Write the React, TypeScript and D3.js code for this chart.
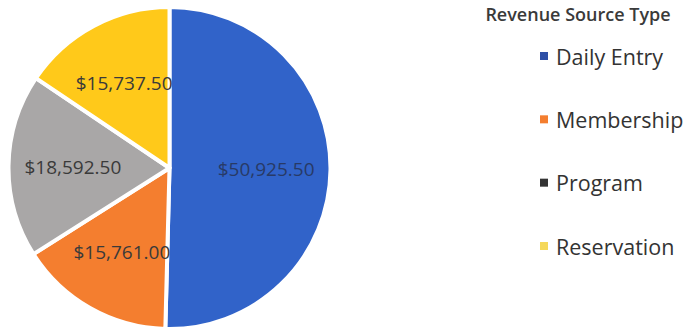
import React from "react";
import * as d3 from "d3";

const categories = ["Daily Entry", "Membership", "Program", "Reservation"];
const values = [50925.5, 15761.0, 18592.5, 15737.5];
const sliceColors = ["#3163C9", "#F47E2F", "#A9A7A7", "#FFC91A"];
const markerColors = ["#2E4FA6", "#F47E2F", "#333333", "#F5D85A"];
const legendTitle = "Revenue Source Type";

const W = 688;
const H = 332;

export default function App() {
  const cx = 169.5;
  const cy = 168;
  const r = 161;
  const pie = d3.pie<number>().sort(null).value((d) => d)(values);
  const arc = d3.arc<d3.PieArcDatum<number>>().innerRadius(0).outerRadius(r);
  const labelArc = d3
    .arc<d3.PieArcDatum<number>>()
    .innerRadius(r * 0.6)
    .outerRadius(r * 0.6);
  const fmt = (v: number) => "$" + d3.format(",.2f")(v);
  const ly = d3.scalePoint<string>().domain(categories).range([56, 246]);

  return (
    <svg
      width={W}
      height={H}
      style={{ position: "absolute", left: 0, top: 0, background: "#fff" }}
    >
      <g transform={`translate(${cx},${cy})`}>
        {pie.map((p, i) => (
          <path
            key={i}
            d={arc(p) || ""}
            fill={sliceColors[i]}
            stroke="#fff"
            strokeWidth={4}
            strokeLinejoin="round"
          />
        ))}
        {pie.map((p, i) => {
          const [x, y] = labelArc.centroid(p);
          return (
            <text
              key={i}
              x={x}
              y={y}
              textAnchor="middle"
              dominantBaseline="central"
              fontFamily="'Open Sans', sans-serif"
              fontSize={19}
              fill={i === 0 ? "#283a66" : "#3a3a3a"}
            >
              {fmt(values[i])}
            </text>
          );
        })}
      </g>
      <text
        x={578}
        y={21}
        textAnchor="middle"
        fontFamily="'Open Sans', sans-serif"
        fontWeight={600}
        fontSize={18}
        fill="#3a3a3a"
      >
        {legendTitle}
      </text>
      {categories.map((c, i) => (
        <g key={c} transform={`translate(0,${ly(c)})`}>
          <rect x={540} y={-4} width={8} height={8} fill={markerColors[i]} />
          <text
            x={556}
            y={0}
            dominantBaseline="central"
            fontFamily="'Open Sans', sans-serif"
            fontSize={21.5}
            fill="#333"
          >
            {c}
          </text>
        </g>
      ))}
    </svg>
  );
}
